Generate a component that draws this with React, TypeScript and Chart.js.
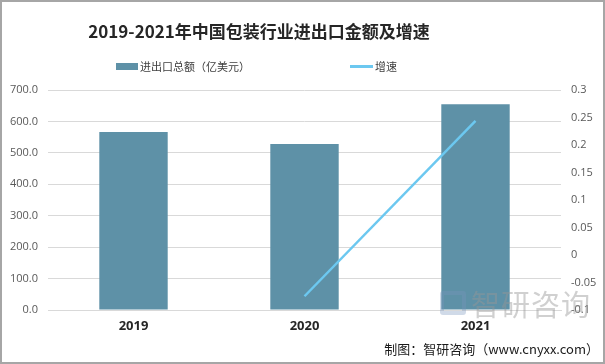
import React, { useEffect, useRef } from "react";
import { Chart, registerables } from "chart.js";

Chart.register(...registerables);

const categories = ["2019", "2020", "2021"];
const totalValues = [566, 528, 655];
const growthValues: (number | null)[] = [null, -0.075, 0.244];

const titleText = "2019-2021年中国包装行业进出口金额及增速";
const barLabel = "进出口总额（亿美元）";
const lineLabel = "增速";
const sourceText = "制图：智研咨询（www.cnyxx.com）";
const watermarkText = "智研咨询";

const BAR_COLOR = "#5e91a7";
const LINE_COLOR = "#6cc8f0";

export default function App() {
  const ref = useRef<HTMLCanvasElement | null>(null);

  useEffect(() => {
    if (!ref.current) return;
    const chart = new Chart(ref.current, {
      data: {
        labels: categories,
        datasets: [
          {
            type: "line",
            label: lineLabel,
            data: growthValues,
            yAxisID: "y1",
            borderColor: LINE_COLOR,
            borderWidth: 2.5,
            pointRadius: 0,
            tension: 0,
            order: 0,
          },
          {
            type: "bar",
            label: barLabel,
            data: totalValues,
            yAxisID: "y",
            backgroundColor: BAR_COLOR,
            barPercentage: 0.4,
            categoryPercentage: 1,
            order: 1,
          },
        ],
      },
      options: {
        animation: false,
        responsive: false,
        maintainAspectRatio: false,
        layout: { padding: { top: 90, left: 0, right: 0, bottom: 0 } },
        plugins: {
          legend: { display: false },
          title: { display: false },
          tooltip: { enabled: false },
        },
        scales: {
          x: {
            grid: { display: false, drawTicks: false },
            border: { color: "#d9d9d9" },
            ticks: {
              color: "#262626",
              font: { family: "Open Sans", size: 13, weight: "bold" },
              padding: 8,
            },
            afterFit: (s: any) => {
              s.height = 54;
            },
          },
          y: {
            position: "left",
            min: 0,
            max: 700,
            ticks: {
              stepSize: 100,
              color: "#595959",
              font: { family: "Open Sans", size: 11 },
              padding: 10,
              callback: (v: any) => Number(v).toFixed(1),
            },
            grid: { color: "#d9d9d9", drawTicks: false },
            border: { display: false },
            afterFit: (s: any) => {
              s.width = 48;
            },
          },
          y1: {
            position: "right",
            min: -0.1,
            max: 0.3,
            ticks: {
              stepSize: 0.05,
              color: "#595959",
              font: { family: "Open Sans", size: 11 },
              padding: 10,
              callback: (v: any) => String(Math.round(Number(v) * 100) / 100),
            },
            grid: { display: false, drawTicks: false },
            border: { display: false },
            afterFit: (s: any) => {
              s.width = 44;
            },
          },
        },
      },
    } as any);
    return () => chart.destroy();
  }, []);

  return (
    <div
      style={{
        position: "absolute",
        left: 0,
        top: 0,
        width: 605,
        height: 364,
        background: "#fff",
        overflow: "hidden",
      }}
    >
      <canvas ref={ref} width={605} height={364} style={{ position: "absolute", left: 0, top: 0 }} />
      <div
        style={{
          position: "absolute",
          left: 0,
          top: 0,
          width: 601,
          height: 360,
          border: "2px solid #a6a6a6",
          pointerEvents: "none",
        }}
      />
      <div
        style={{
          position: "absolute",
          left: 60,
          width: 398,
          top: 19,
          textAlign: "center",
          fontFamily: "'Noto Sans CJK SC', sans-serif",
          fontWeight: 700,
          fontSize: 17,
          lineHeight: "24px",
          color: "#262626",
          whiteSpace: "nowrap",
        }}
      >
        {titleText}
      </div>
      <div
        style={{
          position: "absolute",
          left: 116,
          top: 58,
          display: "flex",
          alignItems: "center",
          fontFamily: "'Noto Sans CJK SC', sans-serif",
          fontSize: 11,
          color: "#404040",
          whiteSpace: "nowrap",
          height: 16,
        }}
      >
        <span style={{ display: "inline-block", width: 22, height: 7, background: BAR_COLOR, marginRight: 2 }} />
        <span>{barLabel}</span>
        <span style={{ display: "inline-block", width: 23, height: 3, background: LINE_COLOR, marginLeft: 100, marginRight: 2 }} />
        <span>{lineLabel}</span>
      </div>
      <div
        style={{
          position: "absolute",
          left: 440,
          top: 291,
          width: 26,
          height: 24,
          border: "4px solid rgba(120,150,190,0.35)",
          borderRadius: 3,
          boxSizing: "border-box",
        }}
      />
      <div
        style={{
          position: "absolute",
          left: 471,
          top: 286,
          fontFamily: "'Noto Sans CJK SC', sans-serif",
          fontSize: 29,
          lineHeight: "34px",
          color: "rgba(150,150,150,0.45)",
          whiteSpace: "nowrap",
          letterSpacing: 1,
        }}
      >
        {watermarkText}
      </div>
      <div
        style={{
          position: "absolute",
          right: 6,
          top: 340,
          fontFamily: "'Noto Sans CJK SC', sans-serif",
          fontSize: 13,
          lineHeight: "18px",
          color: "#1a1a1a",
          whiteSpace: "nowrap",
        }}
      >
        {sourceText}
      </div>
    </div>
  );
}
